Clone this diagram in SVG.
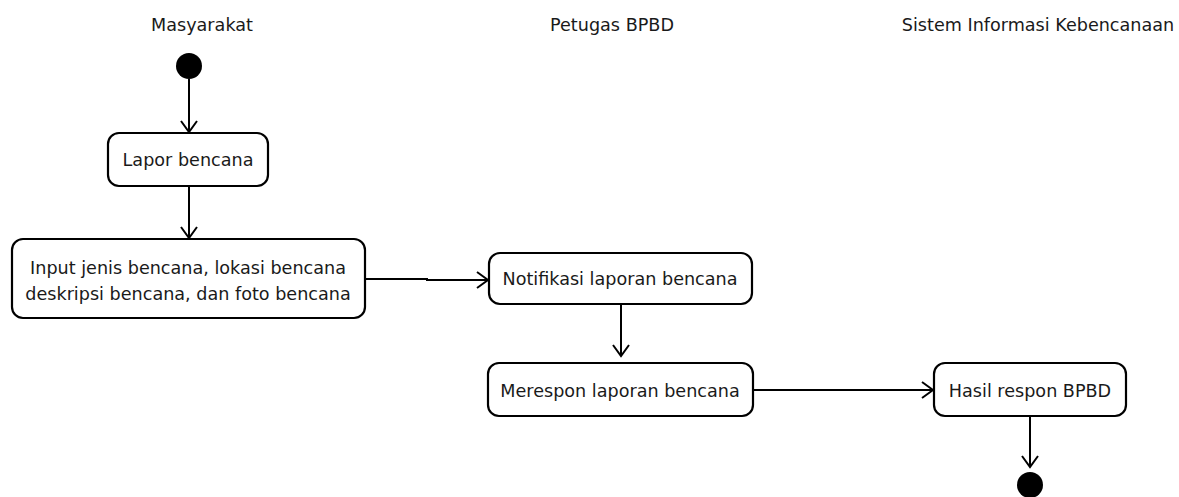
<svg xmlns="http://www.w3.org/2000/svg" width="1179" height="497" viewBox="0 0 1179 497">
<style>
text{font-family:"DejaVu Sans",Verdana,sans-serif;font-size:17.6px;fill:#1a1a1a;text-anchor:middle}
.box{fill:#fff;stroke:#000;stroke-width:2.2}
.edge{fill:none;stroke:#000;stroke-width:2}
.dot{fill:#000}
</style>
<defs>
<marker id="arr" markerWidth="14" markerHeight="18" refX="12" refY="9" orient="auto" markerUnits="userSpaceOnUse">
<path d="M1,1 L12,9 L1,17" fill="none" stroke="#000" stroke-width="2"/>
</marker>
</defs>
<rect width="1179" height="497" fill="#fff"/>
<g id="lanes">
<text x="202" y="31">Masyarakat</text>
<text x="612" y="31">Petugas BPBD</text>
<text x="1038" y="31">Sistem Informasi Kebencanaan</text>
</g>
<g id="connectors">
<path class="edge" d="M189,79 V132" marker-end="url(#arr)"/>
<path class="edge" d="M189,186 V238" marker-end="url(#arr)"/>
<path class="edge" d="M365,279 H427 V280 H488" marker-end="url(#arr)"/>
<path class="edge" d="M621,304 V356" marker-end="url(#arr)"/>
<path class="edge" d="M753,390 H933" marker-end="url(#arr)"/>
<path class="edge" d="M1030,416 V467" marker-end="url(#arr)"/>
</g>
<g id="start"><circle class="dot" cx="189" cy="66" r="13"/></g>
<g id="lapor">
<rect class="box" x="108" y="133" width="160" height="53" rx="11"/>
<text x="188" y="166">Lapor bencana</text>
</g>
<g id="input">
<rect class="box" x="12" y="239" width="353" height="79" rx="11"/>
<text x="188" y="274">Input jenis bencana, lokasi bencana</text>
<text x="188" y="300">deskripsi bencana, dan foto bencana</text>
</g>
<g id="notifikasi">
<rect class="box" x="489" y="253" width="263" height="51" rx="11"/>
<text x="620" y="285">Notifikasi laporan bencana</text>
</g>
<g id="merespon">
<rect class="box" x="488" y="363" width="265" height="53" rx="11"/>
<text x="620" y="397">Merespon laporan bencana</text>
</g>
<g id="hasil">
<rect class="box" x="934" y="363" width="192" height="53" rx="11"/>
<text x="1030" y="397">Hasil respon BPBD</text>
</g>
<g id="end"><circle class="dot" cx="1030" cy="485" r="13"/></g>
</svg>
